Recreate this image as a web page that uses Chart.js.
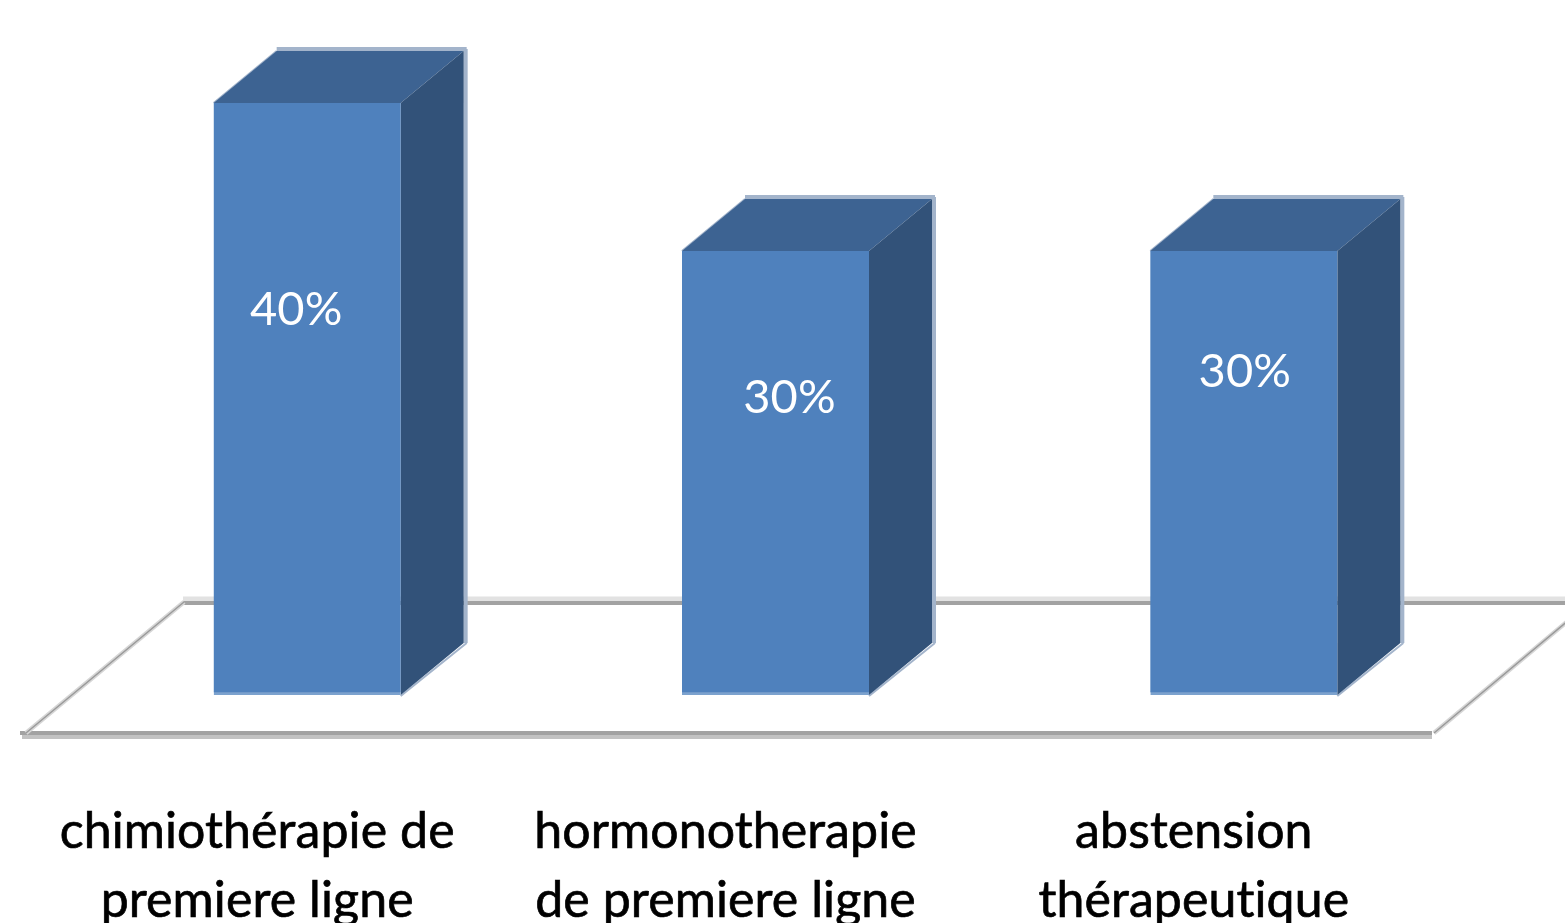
<!DOCTYPE html>
<html>
<head>
<meta charset="utf-8">
<title>Prise en charge</title>
<script src="https://cdn.jsdelivr.net/npm/chart.js@4"></script>
<style>
  html, body { margin: 0; padding: 0; background: #fff; overflow: hidden; }
  canvas { display: block; }
</style>
</head>
<body>
<canvas id="chart" width="1565" height="923"></canvas>
<script>
// chart values
const categories = [
  ['chimiothérapie de', 'premiere ligne'],
  ['hormonotherapie', 'de premiere ligne'],
  ['abstension', 'thérapeutique']
]
const percents = [40, 30, 30]

// where each value label sits inside its bar, from the bar's center / top
const valueLabelX = [-11, 14, 1]
const valueLabelY = [207, 147, 121]

// fake 3d depth of the bars
const depthX = 63
const depthY = 52

const frontColor = '#4F81BD'
const topColor = '#3D6392'
const sideColor = '#325279'
const edgeColor = '#A3B4CB'

function poly(ctx, pts, fill){
  ctx.beginPath()
  ctx.moveTo(pts[0][0], pts[0][1])
  for(let i = 1; i < pts.length; i++){
    ctx.lineTo(pts[i][0], pts[i][1])
  }
  ctx.closePath()
  ctx.fillStyle = fill
  ctx.fill()
}

function line(ctx, x1, y1, x2, y2, color, w){
  ctx.beginPath()
  ctx.moveTo(x1, y1)
  ctx.lineTo(x2, y2)
  ctx.strokeStyle = color
  ctx.lineWidth = w
  ctx.stroke()
}

// the floor the bars stand on, and the top and side of every bar
const depthPlugin = {
  id: 'depth',
  beforeDraw(chart){
    // a little spacing keeps the font from joining "ti" into one glyph
    chart.ctx.letterSpacing = '0.1px'
  },
  beforeDatasetsDraw(chart){
    const ctx = chart.ctx
    const base = chart.scales.y.getPixelForValue(0)
    ctx.save()

    // back edge of the floor
    line(ctx, 183, base - 96, 1565, base - 96, '#E2E2E2', 5)
    line(ctx, 183, base - 92, 1565, base - 92, '#A2A2A2', 4)
    // front edge
    line(ctx, 22, base + 42, 1432, base + 42, '#C2C2C2', 4)
    line(ctx, 20, base + 38, 1432, base + 38, '#A2A2A2', 4)
    // slanted ends
    line(ctx, 26, base + 38, 184, base - 93, '#D6D6D6', 4.5)
    line(ctx, 26, base + 38, 184, base - 93, '#9A9A9A', 1.5)
    line(ctx, 1434, base + 38, 1569, base - 75, '#D6D6D6', 4.5)
    line(ctx, 1434, base + 38, 1569, base - 75, '#9A9A9A', 1.5)

    for(const bar of chart.getDatasetMeta(0).data){
      const left = bar.x - bar.width / 2
      const right = bar.x + bar.width / 2
      const top = bar.y
      const bottom = bar.base

      // soft edge around the depth faces
      line(ctx, left, top, left + depthX, top - depthY, edgeColor, 2)
      line(ctx, left + depthX, top - depthY - 2, right + depthX + 3, top - depthY - 2, edgeColor, 4)
      line(ctx, right + depthX + 2, top - depthY - 2, right + depthX + 2, bottom - depthY, edgeColor, 4)
      line(ctx, right, bottom + 1, right + depthX + 3, bottom - depthY, edgeColor, 2)

      poly(ctx, [[left, top], [left + depthX, top - depthY], [right + depthX, top - depthY], [right, top]], topColor)
      poly(ctx, [[right, top], [right + depthX, top - depthY], [right + depthX, bottom - depthY], [right, bottom]], sideColor)
    }
    ctx.restore()
  },
  afterDatasetsDraw(chart){
    const ctx = chart.ctx
    ctx.save()
    ctx.font = '47px Lato'
    ctx.fillStyle = '#fff'
    ctx.textAlign = 'center'
    ctx.textBaseline = 'middle'
    chart.getDatasetMeta(0).data.forEach((bar, i) => {
      ctx.fillText(percents[i] + '%', bar.x + valueLabelX[i], bar.y + valueLabelY[i])
    })
    ctx.restore()
  }
}

new Chart(document.getElementById('chart'), {
  type: 'bar',
  data: {
    labels: categories,
    datasets: [{
      data: percents,
      backgroundColor: frontColor,
      borderColor: '#7CA2CE',
      borderWidth: { bottom: 3 },
      borderSkipped: false,
      barThickness: 187
    }]
  },
  plugins: [depthPlugin],
  options: {
    responsive: false,
    animation: false,
    layout: { padding: { top: 103, left: 73, right: 87 } },
    plugins: {
      legend: { display: false },
      tooltip: { enabled: false }
    },
    scales: {
      y: { display: false, min: 0, max: 40 },
      x: {
        grid: { display: false },
        border: { display: false },
        // keep the bars' base fixed, the second label line runs off the canvas
        afterFit(scale){ scale.height = 228 },
        ticks: {
          autoSkip: false,
          maxRotation: 0,
          minRotation: 0,
          labelOffset: -50,
          padding: 94,
          color: '#000',
          textStrokeColor: '#000',
          textStrokeWidth: 0.7,
          font: { family: 'Lato', size: 50, lineHeight: 1.38 }
        }
      }
    }
  }
})
</script>
</body>
</html>
